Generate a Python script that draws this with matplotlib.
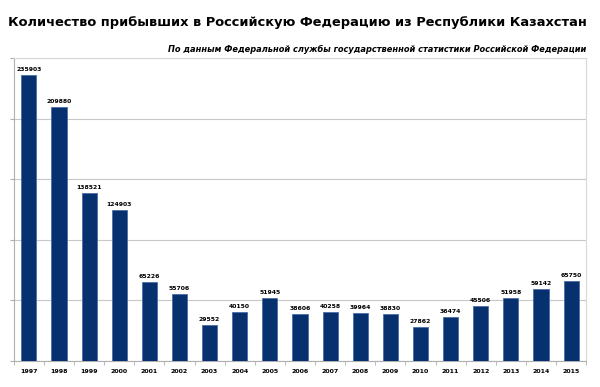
import numpy as np
import matplotlib.pyplot as plt

# Arrivals to Russia from Kazakhstan by year
years = ['1997', '1998', '1999', '2000', '2001', '2002', '2003', '2004', '2005', '2006',
         '2007', '2008', '2009', '2010', '2011', '2012', '2013', '2014', '2015']
arrivals = [235903, 209880, 138521, 124903, 65226, 55706, 29552, 40150, 51945, 38606,
            40258, 39964, 38830, 27862, 36474, 45506, 51958, 59142, 65750]

TITLE = 'Количество прибывших в Российскую Федерацию из Республики Казахстан'
SUBTITLE = 'По данным Федеральной службы государственной статистики Российской Федерации'

fig = plt.figure(figsize=(6, 3.87), dpi=100)
ax = fig.add_axes([0.023, 0.067, 0.954, 0.783])

x = np.arange(len(years))
ax.bar(x, arrivals, width=0.5, color='#06306e', edgecolor='#4a6ea8', linewidth=0.6, zorder=3)

for xi, v in zip(x, arrivals):
    ax.text(xi, v + 2500, str(v), ha='center', va='bottom', fontsize=4.4, fontweight='bold')

ax.set_xlim(-0.5, len(years) - 0.5)
ax.set_ylim(0, 250000)
ax.set_yticks(np.arange(0, 250001, 50000))
ax.set_yticklabels([])
ax.yaxis.grid(True, color='#c8c8c8', linewidth=0.8, zorder=0)

ax.set_xticks(x)
ax.set_xticklabels(years, fontsize=4.5, fontweight='bold')
ax.set_xticks(np.arange(-0.5, len(years), 1), minor=True)
ax.tick_params(axis='x', which='major', length=0, pad=6)
ax.tick_params(axis='x', which='minor', length=3, color='#b0b0b0')
ax.tick_params(axis='y', length=3, color='#b0b0b0')

for side in ['top', 'right']:
    ax.spines[side].set_color('#d8d8d8')
    ax.spines[side].set_linewidth(0.8)
for side in ['left', 'bottom']:
    ax.spines[side].set_color('#b0b0b0')
    ax.spines[side].set_linewidth(0.8)

fig.text(0.495, 0.943, TITLE, ha='center', va='center', fontsize=9.4, fontweight='bold')
fig.text(0.977, 0.872, SUBTITLE, ha='right', va='center', fontsize=5.95,
         fontweight='bold', fontstyle='italic')

fig.savefig('out.png', dpi=100)
